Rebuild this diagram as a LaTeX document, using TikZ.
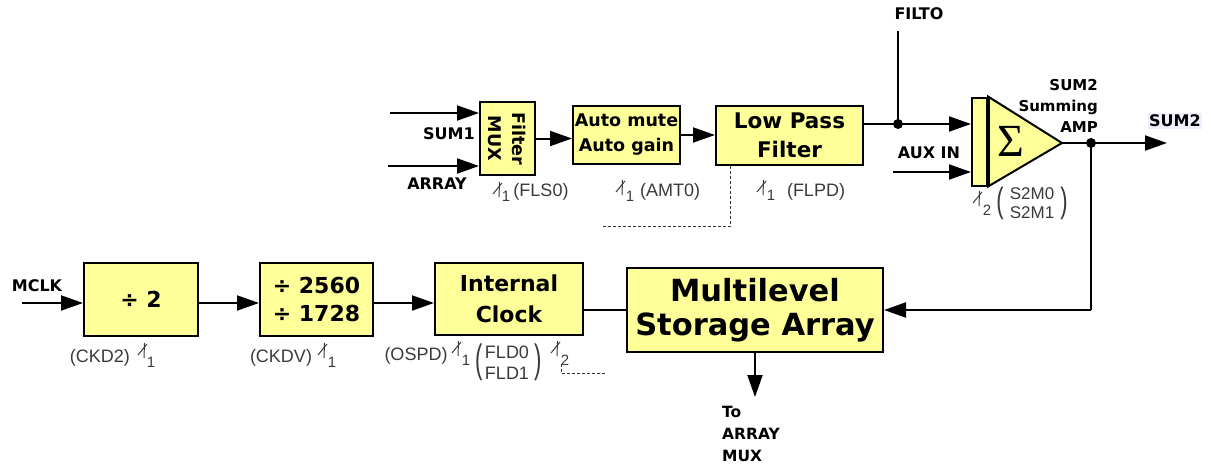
\documentclass[tikz,border=0pt]{standalone}
\usepackage{fontspec}
\setmainfont{DejaVu Sans}
\newfontfamily\lightfont{Liberation Sans}
\newfontfamily\serfont{Liberation Serif}
\usetikzlibrary{arrows.meta}
\definecolor{boxyellow}{HTML}{FFFF99}
\definecolor{labgray}{HTML}{3A3A3A}
\definecolor{lavbg}{HTML}{EFEFFF}
\begin{document}
\begin{tikzpicture}[x=1pt,y=-1pt,
  blk/.style={draw=black, line width=2pt, fill=boxyellow, inner sep=0pt, align=center},
  conn/.style={line width=2pt, draw=black},
  arr/.style={conn, -{Triangle[length=22pt,width=15pt]}},
  lbl/.style={font=\bfseries\fontsize{16}{21}\selectfont, inner sep=0pt},
  small/.style={font=\lightfont\fontsize{18}{18}\selectfont, text=labgray, inner sep=0pt},
  subn/.style={font=\lightfont\fontsize{15}{15}\selectfont, text=labgray, inner sep=0pt},
  paren/.style={font=\lightfont\fontsize{22}{22}\selectfont, text=labgray, inner sep=0pt},
  jdot/.style={circle, fill=black, inner sep=0pt, minimum size=10pt},
  dashline/.style={line width=0.9pt, dash pattern=on 3pt off 2pt, draw=black!80},
  busmark/.pic={\draw[line width=1pt, labgray] (-5,5) -- (4,-6); \draw[line width=1pt, labgray] (1.5,-7) -- (1,8);}
]
\useasboundingbox (0,0) rectangle (1211,466);

% ---------- top row ----------
\node[blk, rotate=-90, minimum width=73pt, minimum height=55pt,
      font=\bfseries\fontsize{17.5}{24}\selectfont] (mux) at (507.5,138.5) {Filter\\MUX};
\node[blk, minimum width=107pt, minimum height=58pt,
      font=\bfseries\fontsize{17.5}{25}\selectfont] (auto) at (626.5,135) {Auto mute\\Auto gain};
\node[blk, minimum width=147pt, minimum height=59pt,
      font=\bfseries\fontsize{21.5}{29}\selectfont] (lpf) at (789.5,135) {Low Pass\\Filter};

\coordinate (s1) at (390,113);
\coordinate (ar) at (388,166);
\draw[arr] (s1) -- (s1 -| mux.south);
\draw[arr] (ar) -- (ar -| mux.south);
\node[lbl] (lsum1) at (449,134) {SUM1};
\node[lbl] (larray) at (437,184) {ARRAY};

\draw[arr] (mux.north) -- (mux.north -| auto.west);
\draw[arr] (auto.east) -- (auto.east -| lpf.west);

% summing amplifier
\node[draw=black, line width=2pt, fill=boxyellow, minimum width=15pt, minimum height=88pt, inner sep=0pt] (bar) at (979.5,141.5) {};
\coordinate (tip) at (1062,143);
\draw[line width=2pt, fill=boxyellow] (bar.north east) -- (tip) -- (bar.south east) -- cycle;
\draw[line width=4pt] (bar.north east) -- (bar.south east);
\node[font=\serfont\fontsize{46}{46}\selectfont, inner sep=0pt] (sigma) at (1011,141) {Σ};

\coordinate (j) at (898,124);
\coordinate (filto) at (898,31);
\coordinate (aux) at (893,172);
\draw[conn] (lpf.east |- j) -- (j);
\draw[arr] (j) -- (j -| bar.west);
\draw[conn] (filto) -- (j);
\node[jdot] (jd) at (j) {};
\draw[arr] (aux) -- (aux -| bar.west);
\node[lbl] (lfilto) at (919,14) {FILTO};
\node[lbl] (lauxin) at (929,153) {AUX IN};
\node[lbl, anchor=east, align=right, font=\bfseries\fontsize{15}{21}\selectfont] (lsamp) at (1098,106) {SUM2\\Summing\\AMP};

\coordinate (d2) at (1091,143);
\coordinate (sout) at (1167,143);
\draw[conn] (tip) -- (d2);
\draw[arr] (d2) -- (sout);
\node[lbl, fill=lavbg, inner sep=1.5pt] (lsum2) at (1175,121) {SUM2};

% ---------- bottom row ----------
\node[blk, minimum width=114pt, minimum height=73pt,
      font=\bfseries\fontsize{22}{28}\selectfont] (div2) at (141,299.5) {÷ 2};
\node[blk, minimum width=113pt, minimum height=73pt,
      font=\bfseries\fontsize{22}{28}\selectfont] (divn) at (316.5,299.5) {÷ 2560\\÷ 1728};
\node[blk, minimum width=148pt, minimum height=72pt,
      font=\bfseries\fontsize{22}{31}\selectfont] (clk) at (509,299) {Internal\\Clock};
\node[blk, minimum width=256pt, minimum height=84pt,
      font=\bfseries\fontsize{30.5}{34}\selectfont] (msa) at (755,310) {Multilevel\\Storage Array};

\coordinate (mclk) at (22,303);
\draw[arr] (mclk) -- (mclk -| div2.west);
\node[lbl] (lmclk) at (37,286) {MCLK};
\draw[arr] (div2.east |- mclk) -- (divn.west |- mclk);
\draw[arr] (divn.east |- mclk) -- (clk.west |- mclk);
\draw[conn] (clk.east |- msa.west) -- (msa.west);
\draw[conn] (d2) -- (d2 |- msa.east);
\draw[arr] (d2 |- msa.east) -- (msa.east);
\node[jdot] (d2d) at (d2) {};

\coordinate (toar) at (755,397);
\draw[arr] (msa.south) -- (toar);
\node[lbl, anchor=west, align=left, font=\bfseries\fontsize{15.5}{22}\selectfont] (ltoar) at (722,434) {To\\ARRAY\\MUX};

% ---------- control labels ----------
\pic at (498,189) {busmark};
\node[subn] (n1) at (506,196) {1};
\node[small] (lfls) at (541,192) {(FLS0)};

\pic at (621,187) {busmark};
\node[subn] (n2) at (630,196) {1};
\node[small] (lamt) at (670,192) {(AMT0)};

\pic at (762,187) {busmark};
\node[subn] (n3) at (771,195) {1};
\node[small] (lflpd) at (816,192) {(FLPD)};

\pic at (978,198) {busmark};
\node[subn] (n4) at (987,210) {2};
\node[paren] (ls2l) at (1000,203) {\scalebox{1}[1.6]{(}};
\node[small, font=\lightfont\fontsize{17}{17}\selectfont] (ls2m0) at (1032,194) {S2M0};
\node[small, font=\lightfont\fontsize{17}{17}\selectfont] (ls2m1) at (1032,213) {S2M1};
\node[paren] (ls2r) at (1064,203) {\scalebox{1}[1.6]{)}};

\node[small] (lckd2) at (100,358) {(CKD2)};
\pic at (143,350) {busmark};
\node[subn] (n5) at (151,362) {1};

\node[small] (lckdv) at (281,358) {(CKDV)};
\pic at (323,350) {busmark};
\node[subn] (n6) at (332,362) {1};

\node[small] (lospd) at (416,356) {(OSPD)};
\pic at (457,348) {busmark};
\node[subn] (n7) at (466,360) {1};
\node[paren] (lfldl) at (479,362) {\scalebox{1}[1.8]{(}};
\node[small] (lfld0) at (507,352) {FLD0};
\node[small] (lfld1) at (507,373) {FLD1};
\node[paren] (lfldr) at (538,362) {\scalebox{1}[1.8]{)}};
\pic at (556,348) {busmark};
\node[subn] (n8) at (565,360) {2};

% dashed stubs
\coordinate (da) at (730,226);
\coordinate (db) at (603,226);
\draw[dashline] (lpf.south -| da) -- (da) -- (db);
\coordinate (dc0) at (561,364);
\coordinate (dc) at (561,373);
\coordinate (dd) at (605,373);
\draw[dashline] (dc0) -- (dc) -- (dd);
\end{tikzpicture}
\end{document}
